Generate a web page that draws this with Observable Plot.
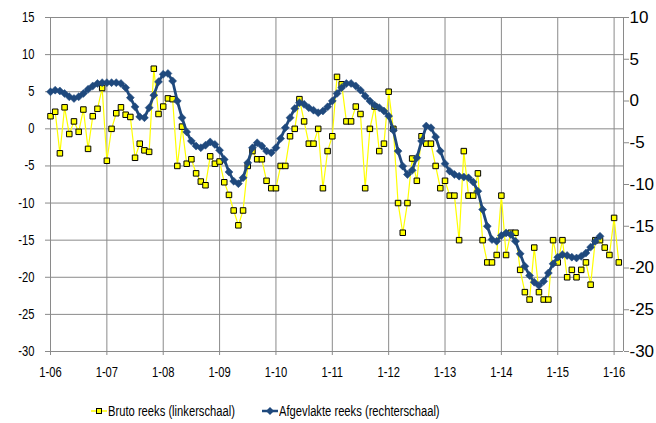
<!DOCTYPE html>
<html>
<head>
<meta charset="utf-8">
<script src="https://cdn.jsdelivr.net/npm/d3@7"></script>
<script src="https://cdn.jsdelivr.net/npm/@observablehq/plot@0.6"></script>
<style>
  html, body { margin: 0; padding: 0; background: #fff; }
  #chart { width: 656px; height: 423px; position: relative; overflow: hidden;
           font-family: "Liberation Sans", Arial, sans-serif; }
  #legend { position: absolute; left: 0; top: 392px; width: 656px; height: 31px; font-size: 14px; color: #000; }
  .item { position: absolute; top: 10px; height: 18px; white-space: nowrap; }
  .item svg { position: absolute; left: 0; top: 3px; }
  .item span { position: absolute; left: 17px; top: 0; line-height: 18px; transform: scaleX(0.8); transform-origin: 0 50%; }
</style>
</head>
<body>
<div id="chart"><div id="legend"></div></div>
<script>
// Monthly series, January 2006 onward
const bruto = [
  1.7, 2.3, -3.3, 2.9, -0.7, 1.0, -0.4, 2.6, -2.7, 1.7, 2.7, 5.5,
  -4.3, 0.0, 2.1, 2.9, 1.9, 1.6, -3.9, -2.0, -2.9, -3.1, 8.1, 2.0,
  3.0, 4.1, 4.0, -5.0, 0.3, -4.7, -4.1, -6.0, -7.1, -7.6, -3.7, -4.7,
  -4.4, -7.2, -8.9, -11.0, -13.0, -11.0, -5.0, -3.0, -4.1, -4.1, -7.0, -8.0,
  -8, -5, -5, -1, 0, 4, 1, -2, -2, 0, -8, -3,
  -1, 7, 6, 1, 1, 3, 2, -8, 0, 3, -3, -2,
  5, 0, -10, -14, -10, -4, -7, -1, -2, -2, -5, -8,
  -7, -9, -9, -15, -3, -9, -9, -6, -15, -18, -18, -17,
  -9, -17, -14, -14, -19, -22, -23, -16, -22, -23, -23, -15,
  -18, -15, -20, -19, -20, -19, -18, -21, -15, -15, -16, -17,
  -12, -18
];
const afgevlakt = [
  1.1, 1.3, 1.2, 0.9, 0.5, 0.3, 0.5, 0.9, 1.4, 1.8, 2.1, 2.2,
  2.2, 2.2, 2.2, 2.1, 1.6, 0.4, -0.7, -1.9, -2.0, -0.8, 0.7, 2.3,
  3.2, 3.3, 2.4, 0.0, -2.0, -3.7, -4.8, -5.4, -5.6, -5.3, -4.9, -5.2,
  -5.9, -7.0, -8.5, -9.6, -9.9, -9.2, -7.4, -5.6, -5.0, -5.4, -6.0, -6.2,
  -5.6, -4.5, -3.2, -2.0, -0.9, -0.2, -0.4, -0.8, -1.1, -1.4, -1.2, -0.7,
  0.0, 0.9, 1.6, 2.1, 2.1, 1.8, 1.3, 0.6, 0.0, -0.5, -0.8, -1.2,
  -1.8, -3.5, -6.0, -7.8, -8.8, -8.3, -6.8, -4.8, -3.0, -3.2, -4.3, -6.0,
  -7.5, -8.4, -8.8, -9.0, -9.1, -9.2, -9.7, -10.8, -13.0, -15.0, -16.6, -16.8,
  -16.1, -15.8, -16.0, -16.8, -18.3, -19.8, -20.9, -21.7, -22.1, -21.6, -20.6, -19.5,
  -18.7, -18.4, -18.5, -18.7, -18.8, -18.6, -18.2, -17.5, -16.8, -16.2
];
const yearLabels = ["1-06","1-07","1-08","1-09","1-10","1-11","1-12","1-13","1-14","1-15","1-16"];
const leftTicks = [15, 10, 5, 0, -5, -10, -15, -20, -25, -30];
const rightTicks = [10, 5, 0, -5, -10, -15, -20, -25, -30];

const seriesNames = ["Bruto reeks (linkerschaal)", "Afgevlakte reeks (rechterschaal)"];
const colors = { bruto: "#ffff00", afgevlakt: "#1f497d" };

// Right scale [-30, 10] drawn on the left scale [-30, 15]
const leftDomain = [-30, 15], rightDomain = [-30, 10];
const toLeft = r => leftDomain[0] + (r - rightDomain[0]) * (leftDomain[1] - leftDomain[0]) / (rightDomain[1] - rightDomain[0]);
const toRight = l => rightDomain[0] + (l - leftDomain[0]) * (rightDomain[1] - rightDomain[0]) / (leftDomain[1] - leftDomain[0]);

const brutoRows = bruto.map((v, i) => ({ m: i, v }));
const smoothRows = afgevlakt.map((v, i) => ({ m: i, v: toLeft(v) }));
const yearPos = yearLabels.map((_, i) => i * 12);
const grid = "#8a8a8a";

const chart = Plot.plot({
  width: 656,
  height: 392,
  marginLeft: 50,
  marginRight: 33,
  marginTop: 17,
  marginBottom: 41,
  style: { fontFamily: "\"Liberation Sans\", Arial, sans-serif", fontSize: "14px", color: "#000", background: "#fff" },
  x: { type: "linear", domain: [0, 122] },
  y: { domain: leftDomain },
  marks: [
    Plot.gridY(leftTicks, { stroke: grid, strokeOpacity: 1 }),
    Plot.gridX(yearPos, { stroke: grid, strokeOpacity: 1 }),
    Plot.ruleX([122], { stroke: grid }),
    Plot.ruleY([-30], { stroke: grid }),
    Plot.axisY(leftTicks, { anchor: "left", label: null, tickSize: 5, tickPadding: 11, stroke: grid, tickFormat: d => String(d) }),
    Plot.axisY(rightTicks.map(toLeft), { anchor: "right", label: null, tickSize: 5, tickPadding: 1, stroke: grid, textAnchor: "start",
      fontSize: 17, tickFormat: d => String(Math.round(toRight(d))) }),
    Plot.axisX(yearPos, { anchor: "bottom", label: null, tickSize: 4, tickPadding: 12, stroke: grid,
      tickFormat: (d, i) => yearLabels[i] }),
    Plot.line(brutoRows, { x: "m", y: "v", stroke: colors.bruto, strokeWidth: 1.2 }),
    Plot.dot(brutoRows, { x: "m", y: "v", symbol: "square", r: 3.1, fill: colors.bruto, stroke: "#000", strokeWidth: 1 }),
    Plot.line(smoothRows, { x: "m", y: "v", stroke: colors.afgevlakt, strokeWidth: 2.8 }),
    Plot.dot(smoothRows, { x: "m", y: "v", symbol: "diamond2", r: 3.6, fill: colors.afgevlakt, stroke: colors.afgevlakt, strokeWidth: 0.5 })
  ]
});

// Narrow the left and bottom tick labels horizontally, keeping each label's anchor point
chart.querySelectorAll("text").forEach(t => {
  if (t.closest('[text-anchor="start"]')) return;
  const tr = t.getAttribute("transform") || "";
  t.setAttribute("transform", tr + " scale(0.8,1)");
});

const host = document.getElementById("chart");
chart.style.position = "absolute";
chart.style.left = "0";
chart.style.top = "0";
host.insertBefore(chart, host.firstChild);

// Legend below the plot
const legend = document.getElementById("legend");
function addItem(left, name, symbolSvg) {
  const el = document.createElement("div");
  el.className = "item";
  el.style.left = left + "px";
  el.innerHTML = symbolSvg + "<span>" + name + "</span>";
  legend.appendChild(el);
}
addItem(91, seriesNames[0],
  `<svg width="16" height="12"><line x1="0" y1="6" x2="16" y2="6" stroke="${colors.bruto}" stroke-width="1.5"/>` +
  `<rect x="5.5" y="3.5" width="5" height="5" fill="${colors.bruto}" stroke="#000" stroke-width="1"/></svg>`);
addItem(262, seriesNames[1],
  `<svg width="16" height="12"><line x1="0" y1="6" x2="16" y2="6" stroke="${colors.afgevlakt}" stroke-width="2.5"/>` +
  `<path d="M8 2 L12 6 L8 10 L4 6 Z" fill="${colors.afgevlakt}"/></svg>`);
</script>
</body>
</html>
